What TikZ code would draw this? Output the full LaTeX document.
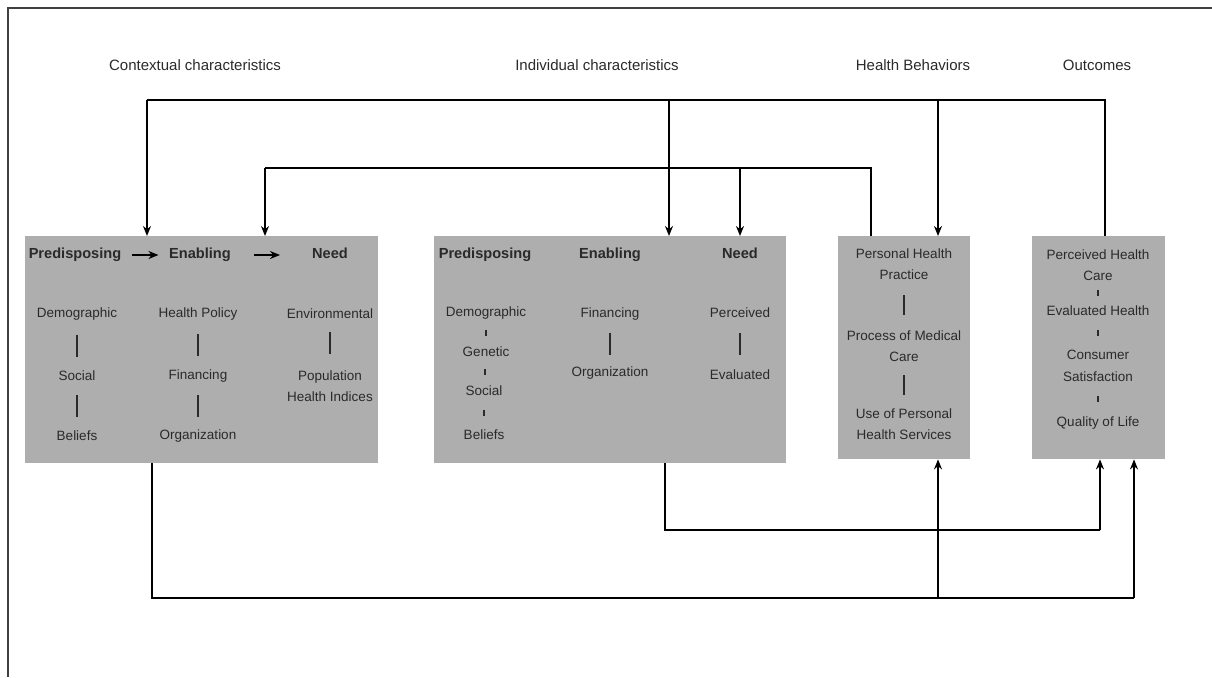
\documentclass[tikz,border=0pt]{standalone}
\usepackage{fontspec}
\setmainfont{Liberation Sans}
\usetikzlibrary{arrows.meta,calc,positioning}

\definecolor{panelgray}{RGB}{174,174,174}
\definecolor{inkgray}{RGB}{42,42,42}

\tikzset{
  panel/.style={fill=panelgray, draw=none, anchor=north west, inner sep=0pt},
  item/.style={font=\fontsize{13.5}{21.5}\selectfont, text=inkgray, align=center, inner sep=2pt},
  head/.style={item, font=\fontsize{14.6}{21.5}\selectfont\bfseries, text height=10.5pt, text depth=3pt},
  title/.style={item, font=\fontsize{15}{18}\selectfont},
  wire/.style={line width=2.1pt, black},
  flow/.style={wire, -{Stealth[length=10pt,width=8pt]}},
  tick/.style={line width=1.6pt, inkgray},
}

\begin{document}
\begin{tikzpicture}[x=1pt,y=-1pt]
  \useasboundingbox (0,0) rectangle (1212,677);
  % frame
  \draw[line width=2.5pt, black!75] (1212,8) -- (8,8) -- (8,677);

  % column titles
  \node[title] (tctx) at (195,65) {Contextual characteristics};
  \node[title] (tind) at (597,65) {Individual characteristics};
  \node[title] (tbeh) at (913,65) {Health Behaviors};
  \node[title] (tout) at (1097,65) {Outcomes};

  % panels
  \node[panel, minimum width=353pt, minimum height=227pt] (ctx) at (25,236) {};
  \node[panel, minimum width=352pt, minimum height=227pt] (ind) at (434,236) {};
  \node[panel, minimum width=132pt, minimum height=223pt] (beh) at (838,236) {};
  \node[panel, minimum width=133pt, minimum height=223pt] (out) at (1032,236) {};

  % contextual characteristics
  \node[head] (pre1) at (75,255) {Predisposing};
  \node[head] (ena1) at (200,255) {Enabling};
  \node[head] (need1) at (330,255) {Need};
  \draw[flow] ($(pre1.east)+(9,0)$) -- ++(26,0);
  \draw[flow] ($(ena1.east)+(21,0)$) -- ++(26,0);

  \node[item] (demo1) at (77,314) {Demographic};
  \node[item] (soc1) at (77,376) {Social};
  \node[item] (bel1) at (77,436) {Beliefs};
  \node[item] (pol1) at (198,314) {Health Policy};
  \node[item] (fin1) at (198,376) {Financing};
  \node[item] (org1) at (198,436) {Organization};
  \node[item] (env1) at (330,314) {Environmental};
  \node[item] (popu1) at (330,386) {Population\\Health Indices};

  \draw[tick] ($(demo1.south)!0.5!(soc1.north)$) ++(0,-11) -- ++(0,22);
  \draw[tick] ($(soc1.south)!0.5!(bel1.north)$) ++(0,-11) -- ++(0,22);
  \draw[tick] ($(pol1.south)!0.5!(fin1.north)$) ++(0,-11) -- ++(0,22);
  \draw[tick] ($(fin1.south)!0.5!(org1.north)$) ++(0,-11) -- ++(0,22);
  \draw[tick] (env1.south) ++(0,11) -- ++(0,22);

  % individual characteristics
  \node[head] (pre2) at (485,255) {Predisposing};
  \node[head] (ena2) at (610,255) {Enabling};
  \node[head] (need2) at (740,255) {Need};

  \node[item] (demo2) at (486,313) {Demographic};
  \node[item] (gen2) at (486,352) {Genetic};
  \node[item] (soc2) at (484,391) {Social};
  \node[item] (bel2) at (484,435) {Beliefs};
  \node[item] (fin2) at (610,314) {Financing};
  \node[item] (org2) at (610,373) {Organization};
  \node[item] (perc2) at (740,313) {Perceived};
  \node[item] (eval2) at (740,375) {Evaluated};

  \draw[tick] ($(demo2.south)!0.5!(gen2.north)$) ++(0,-3) -- ++(0,6);
  \draw[tick] ($(gen2.south)!0.5!(soc2.north)$) ++(0,-3) -- ++(0,6);
  \draw[tick] ($(soc2.south)!0.5!(bel2.north)$) ++(0,-3) -- ++(0,6);
  \draw[tick] ($(fin2.south)!0.5!(org2.north)$) ++(0,-11) -- ++(0,22);
  \draw[tick] ($(perc2.south)!0.5!(eval2.north)$) ++(0,-11) -- ++(0,22);

  % health behaviors
  \node[item] (php) at (904,264) {Personal Health\\Practice};
  \node[item] (pmc) at (904,346) {Process of Medical\\Care};
  \node[item] (uph) at (904,424) {Use of Personal\\Health Services};
  \draw[tick] ($(php.south)!0.5!(pmc.north)$) ++(0,-10) -- ++(0,20);
  \draw[tick] ($(pmc.south)!0.5!(uph.north)$) ++(0,-10) -- ++(0,20);

  % outcomes
  \node[item] (phc) at (1098,265) {Perceived Health\\Care};
  \node[item] (evh) at (1098,311) {Evaluated Health};
  \node[item] (cons) at (1098,366) {Consumer\\Satisfaction};
  \node[item] (qol) at (1098,423) {Quality of Life};
  \draw[tick] ($(phc.south)!0.5!(evh.north)$) ++(0,-3) -- ++(0,6);
  \draw[tick] ($(evh.south)!0.5!(cons.north)$) ++(0,-3) -- ++(0,6);
  \draw[tick] ($(cons.south)!0.5!(qol.north)$) ++(0,-3) -- ++(0,6);

  % feedback buses on top
  \coordinate (busA) at (147,100);
  \coordinate (busB) at (1105,100);
  \coordinate (busC) at (265,168);
  \coordinate (busD) at (871,168);
  \draw[wire] (busB |- out.north) -- (busB) -- (busA);
  \draw[flow] (busA) -- (busA |- ctx.north);
  \draw[flow] (busA -| 669,0) -- (669,0 |- ind.north);
  \draw[flow] (busA -| 938,0) -- (938,0 |- beh.north);
  \draw[wire] (busD |- beh.north) -- (busD) -- (busC);
  \draw[flow] (busC) -- (busC |- ctx.north);
  \draw[flow] (busC -| 740,0) -- (740,0 |- ind.north);

  % buses below
  \coordinate (lowA) at (665,530);
  \coordinate (lowB) at (1100,530);
  \coordinate (lowC) at (152,598);
  \coordinate (lowD) at (1134,598);
  \draw[wire] (lowA |- ind.south) -- (lowA) -- (lowB);
  \draw[flow] (lowB) -- (lowB |- out.south);
  \draw[wire] (lowC |- ctx.south) -- (lowC) -- (lowD);
  \draw[flow] (lowD) -- (lowD |- out.south);
  \draw[flow] (lowC -| 938,0) -- (938,0 |- beh.south);
\end{tikzpicture}
\end{document}
